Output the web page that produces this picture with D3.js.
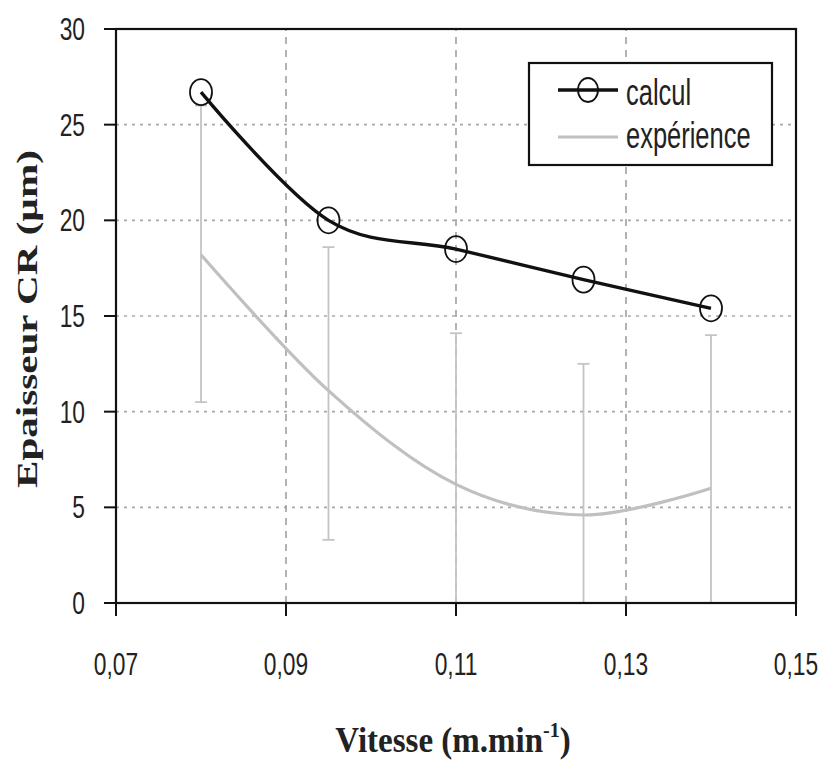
<!DOCTYPE html>
<html>
<head>
<meta charset="utf-8">
<script src="https://cdn.jsdelivr.net/npm/d3@7"></script>
<style>
  html, body { margin: 0; padding: 0; background: #fff; }
  svg { display: block; }
</style>
</head>
<body>
<script>
// ---- data ----
const xValues = [0.08, 0.095, 0.11, 0.125, 0.14];
const calcul = [26.7, 20.0, 18.5, 16.9, 15.4];
const experience = [18.2, 11.1, 6.2, 4.6, 6.0];
const expErrUpper = [26.0, 18.6, 14.1, 12.5, 14.0];
const expErrLower = [10.5, 3.3, -1.7, -3.3, -2.0];
const xTicks = [0.07, 0.09, 0.11, 0.13, 0.15];
const yTicks = [0, 5, 10, 15, 20, 25, 30];
const xGrid = [0.09, 0.11, 0.13];
const yGrid = [5, 10, 15, 20, 25];
const seriesNames = ["calcul", "expérience"];

const W = 822, H = 762;
const svg = d3.select("body").append("svg").attr("width", W).attr("height", H);

const x = d3.scaleLinear().domain([0.07, 0.15]).range([116, 796]);
const y = d3.scaleLinear().domain([0, 30]).range([603, 29]);

const fmt = v => d3.format(".2f")(v).replace(".", ",");

// clip
svg.append("clipPath").attr("id", "plot").append("rect")
  .attr("x", x(0.07)).attr("y", y(30)).attr("width", x(0.15) - x(0.07)).attr("height", y(0) - y(30));

// grid
svg.append("g").selectAll("line").data(yGrid).join("line")
  .attr("x1", x(0.07)).attr("x2", x(0.15))
  .attr("y1", d => y(d)).attr("y2", d => y(d))
  .attr("stroke", "#a8a8a8").attr("stroke-width", 1.6).attr("stroke-dasharray", "3,5");
svg.append("g").selectAll("line").data(xGrid).join("line")
  .attr("x1", d => x(d)).attr("x2", d => x(d))
  .attr("y1", y(0)).attr("y2", y(30))
  .attr("stroke", "#a0a0a0").attr("stroke-width", 1.6).attr("stroke-dasharray", "7,6");

const pts = xValues.map((v, i) => ({x: v, c: calcul[i], e: experience[i], hi: expErrUpper[i], lo: expErrLower[i]}));

// error bars
const eb = svg.append("g").attr("clip-path", "url(#plot)");
eb.selectAll("line.v").data(pts).join("line").attr("class", "v")
  .attr("x1", d => x(d.x)).attr("x2", d => x(d.x))
  .attr("y1", d => y(d.hi)).attr("y2", d => y(d.lo))
  .attr("stroke", "#c4c4c4").attr("stroke-width", 1.8);
eb.selectAll("line.t").data(pts).join("line").attr("class", "t")
  .attr("x1", d => x(d.x) - 6).attr("x2", d => x(d.x) + 6)
  .attr("y1", d => y(d.hi)).attr("y2", d => y(d.hi))
  .attr("stroke", "#c4c4c4").attr("stroke-width", 1.8);
eb.selectAll("line.b").data(pts).join("line").attr("class", "b")
  .attr("x1", d => x(d.x) - 6).attr("x2", d => x(d.x) + 6)
  .attr("y1", d => y(d.lo)).attr("y2", d => y(d.lo))
  .attr("stroke", "#c4c4c4").attr("stroke-width", 1.8);

// lines
const curve = d3.curveCardinal.tension(0);
svg.append("path").datum(pts)
  .attr("d", d3.line().x(d => x(d.x)).y(d => y(d.e)).curve(curve))
  .attr("fill", "none").attr("stroke", "#c0c0c0").attr("stroke-width", 3.2);
svg.append("path").datum(pts)
  .attr("d", d3.line().x(d => x(d.x)).y(d => y(d.c)).curve(curve))
  .attr("fill", "none").attr("stroke", "#111").attr("stroke-width", 3.4);

// markers
svg.append("g").selectAll("ellipse").data(pts).join("ellipse")
  .attr("cx", d => x(d.x)).attr("cy", d => y(d.c))
  .attr("rx", 11).attr("ry", 13)
  .attr("fill", "none").attr("stroke", "#111").attr("stroke-width", 1.8);

// frame
svg.append("rect")
  .attr("x", x(0.07)).attr("y", y(30)).attr("width", x(0.15) - x(0.07)).attr("height", y(0) - y(30))
  .attr("fill", "none").attr("stroke", "#111").attr("stroke-width", 2.2);

// ticks
svg.append("g").selectAll("line").data(yTicks).join("line")
  .attr("x1", x(0.07) - 12).attr("x2", x(0.07))
  .attr("y1", d => y(d)).attr("y2", d => y(d))
  .attr("stroke", "#111").attr("stroke-width", 2);
svg.append("g").selectAll("line").data(xTicks).join("line")
  .attr("x1", d => x(d)).attr("x2", d => x(d))
  .attr("y1", y(0)).attr("y2", y(0) + 13)
  .attr("stroke", "#111").attr("stroke-width", 2);

// stretched text helper
function stretchText(parent, data, opts) {
  return parent.selectAll(null).data(data).join("g")
    .attr("transform", d => `translate(${opts.tx(d)},${opts.ty(d)}) ${opts.rot ? "rotate(" + opts.rot + ")" : ""} scale(${opts.sx},${opts.sy})`)
    .append("text")
    .attr("text-anchor", opts.anchor)
    .attr("font-family", opts.family)
    .attr("font-size", opts.size)
    .attr("font-weight", opts.weight || "normal")
    .attr("fill", "#222")
    .text(opts.text);
}

const sans = "'Liberation Sans', Arial, sans-serif";
const serif = "'Liberation Serif', 'Times New Roman', serif";

// tick labels
stretchText(svg.append("g"), xTicks, {
  tx: d => x(d), ty: () => 675, sx: 0.95, sy: 1.3, anchor: "middle",
  family: sans, size: 24, text: d => fmt(d)
});
stretchText(svg.append("g"), yTicks, {
  tx: () => 85, ty: d => y(d) + 11, sx: 0.95, sy: 1.3, anchor: "end",
  family: sans, size: 24, text: d => d
});

// axis titles
const xt = svg.append("g").attr("transform", "translate(453,752) scale(1,1.1)")
  .append("text").attr("text-anchor", "middle")
  .attr("font-family", serif).attr("font-weight", "bold").attr("font-size", 33).attr("fill", "#222");
xt.append("tspan").text("Vitesse (m.min");
xt.append("tspan").attr("font-size", 20).attr("dy", -14).text("-1");
xt.append("tspan").attr("dy", 14).text(")");

svg.append("g").attr("transform", "translate(37,319) rotate(-90) scale(1.37,1)")
  .append("text").attr("text-anchor", "middle")
  .attr("font-family", serif).attr("font-weight", "bold").attr("font-size", 30).attr("fill", "#222")
  .text("Epaisseur CR (µm)");

// legend
const lg = svg.append("g");
lg.append("rect").attr("x", 529).attr("y", 63).attr("width", 243).attr("height", 102)
  .attr("fill", "#fff").attr("stroke", "#111").attr("stroke-width", 2.2);
const legendY = [90, 137];
lg.append("line").attr("x1", 558).attr("x2", 618).attr("y1", legendY[0]).attr("y2", legendY[0])
  .attr("stroke", "#111").attr("stroke-width", 3.4);
lg.append("ellipse").attr("cx", 588).attr("cy", legendY[0]).attr("rx", 10).attr("ry", 12)
  .attr("fill", "none").attr("stroke", "#111").attr("stroke-width", 1.8);
lg.append("line").attr("x1", 558).attr("x2", 618).attr("y1", legendY[1]).attr("y2", legendY[1])
  .attr("stroke", "#c0c0c0").attr("stroke-width", 3.2);
stretchText(lg, seriesNames, {
  tx: () => 626, ty: (d, i) => 0, sx: 1, sy: 1.45, anchor: "start",
  family: sans, size: 26, text: d => d
});
lg.selectAll("g").attr("transform", (d, i) => `translate(626,${[105, 148][i]}) scale(0.98,1.45)`);
</script>
</body>
</html>
